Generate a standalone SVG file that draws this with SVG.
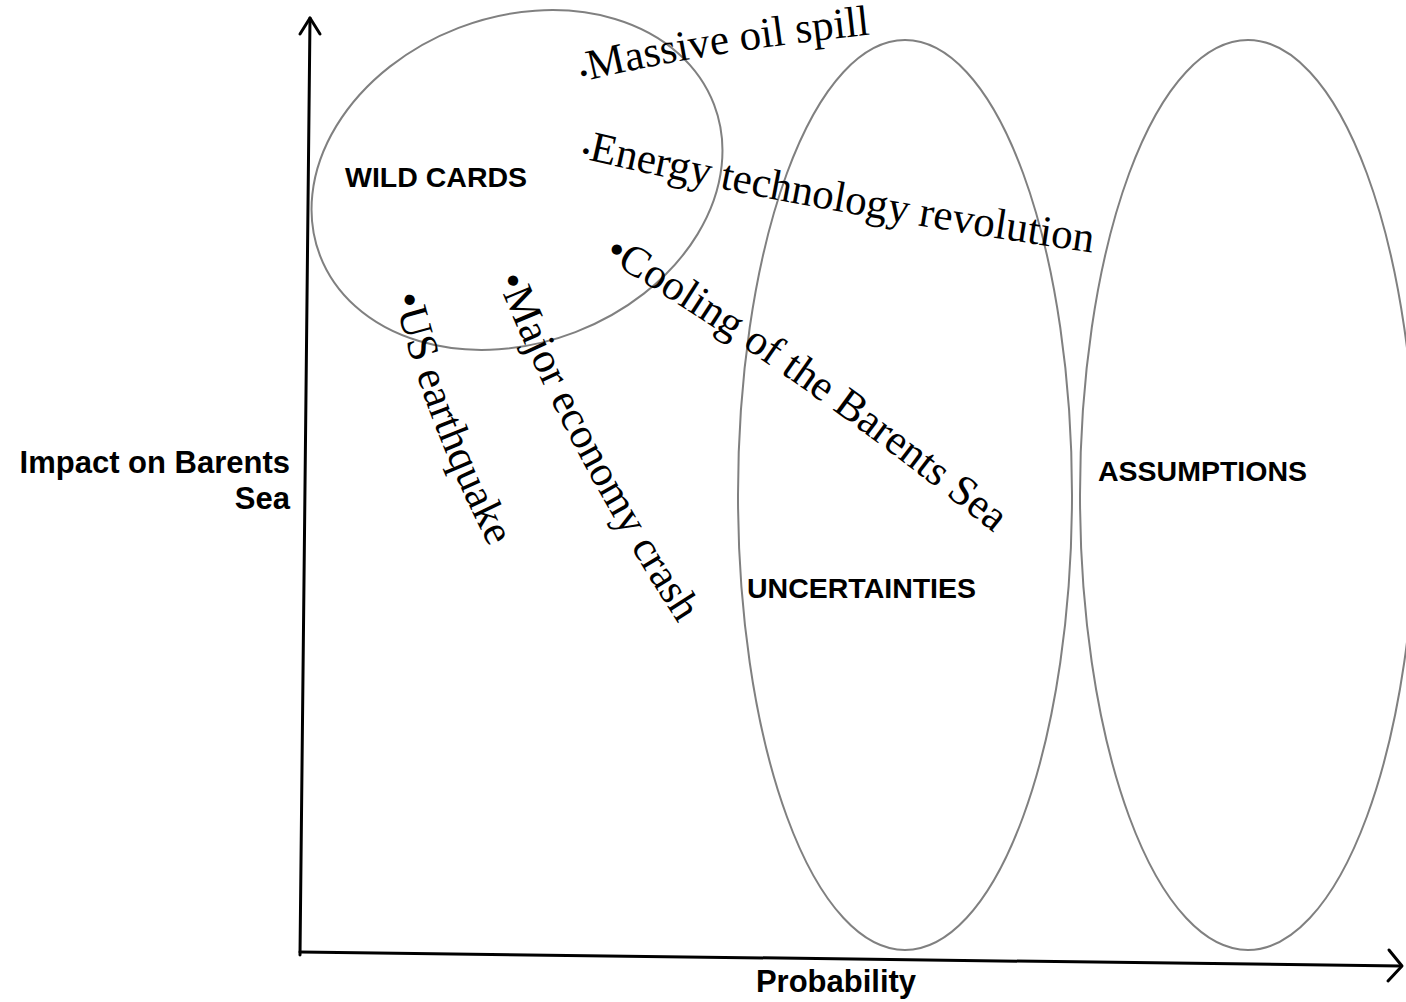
<svg xmlns="http://www.w3.org/2000/svg" xmlns:xlink="http://www.w3.org/1999/xlink" width="1406" height="1002" viewBox="0 0 1406 1002">
  <style>
    .region { fill: none; stroke: #808080; stroke-width: 2; }
    .axis { fill: none; stroke: #000; stroke-width: 3; stroke-linecap: round; stroke-linejoin: round; }
    .label { font-family: "Liberation Sans", Arial, sans-serif; font-weight: bold; font-size: 28.5px; fill: #000; }
    .axislabel { font-family: "Liberation Sans", Arial, sans-serif; font-weight: bold; font-size: 31px; fill: #000; }
    .item { font-family: "Liberation Serif", "Times New Roman", serif; font-size: 43px; fill: #000; }
    .smallbullet { font-size: 24px; }
  </style>
  <defs>
    <path id="p-massive" d="M 582,82 Q 700,52 885,33"/>
    <path id="p-energy" d="M 580,158 Q 820,214 1110,255"/>
    <path id="p-cooling" d="M 603,258 Q 795,372 1010,546"/>
    <path id="p-us" d="M 394,296 Q 424,420 492,552"/>
    <path id="p-major" d="M 497,279 Q 565,450 685,634"/>
  </defs>

  <g id="connectors">
    <path id="y-axis" class="axis" d="M 300,955 L 310,18"/>
    <path id="y-axis-head" class="axis" d="M 300,34 L 310,18 L 320,34"/>
    <path id="x-axis" class="axis" d="M 300,952 L 1401,966"/>
    <path id="x-axis-head" class="axis" d="M 1389,950 L 1402,966 L 1388,981"/>
  </g>

  <g id="wild-cards">
    <ellipse class="region" cx="517" cy="180" rx="211" ry="163" transform="rotate(-21 517 180)"/>
    <text class="label" x="345" y="187">WILD CARDS</text>
  </g>

  <g id="uncertainties">
    <ellipse class="region" cx="905" cy="495" rx="167" ry="455"/>
    <text class="label" x="747" y="598">UNCERTAINTIES</text>
  </g>

  <g id="assumptions">
    <ellipse class="region" cx="1248" cy="495" rx="168" ry="455"/>
    <text class="label" x="1098" y="481">ASSUMPTIONS</text>
  </g>

  <g id="axis-labels">
    <text class="axislabel" text-anchor="end" x="290" y="473">Impact on Barents</text>
    <text class="axislabel" text-anchor="end" x="290" y="509">Sea</text>
    <text class="axislabel" text-anchor="middle" x="836" y="992">Probability</text>
  </g>

  <g id="item-massive-oil-spill">
    <text class="item"><textPath xlink:href="#p-massive" href="#p-massive"><tspan class="smallbullet">•</tspan>Massive oil spill</textPath></text>
  </g>
  <g id="item-energy">
    <text class="item"><textPath xlink:href="#p-energy" href="#p-energy"><tspan class="smallbullet">•</tspan>Energy technology revolution</textPath></text>
  </g>
  <g id="item-cooling">
    <text class="item"><textPath xlink:href="#p-cooling" href="#p-cooling">•Cooling of the Barents Sea</textPath></text>
  </g>
  <g id="item-us-earthquake">
    <text class="item"><textPath xlink:href="#p-us" href="#p-us">•US earthquake</textPath></text>
  </g>
  <g id="item-major-economy-crash">
    <text class="item"><textPath xlink:href="#p-major" href="#p-major">•Major economy crash</textPath></text>
  </g>
</svg>
